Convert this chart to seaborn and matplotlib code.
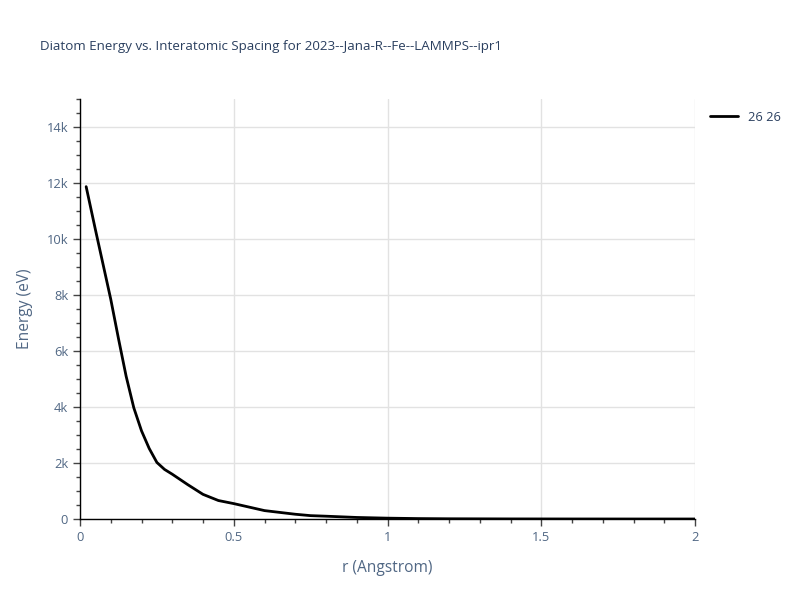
import numpy as np
import pandas as pd
import matplotlib
matplotlib.use("Agg")
import matplotlib.pyplot as plt
from matplotlib.ticker import FuncFormatter, MultipleLocator
import seaborn as sns

# values
r_values = [0.02, 0.05, 0.10, 0.125, 0.15, 0.175, 0.20, 0.225, 0.25, 0.275, 0.30,
            0.35, 0.40, 0.45, 0.50, 0.60, 0.70, 0.75, 0.80, 0.90, 1.00, 1.10,
            1.20, 1.40, 1.60, 1.80, 2.00]
energy_values = [11870, 10340, 7850, 6450, 5100, 3970, 3150, 2520, 2020, 1770, 1600,
                 1230, 880, 660, 550, 300, 170, 120, 100, 55, 30, 15,
                 8, 3, 1, 0, 0]
series_label = "26 26"
title_text = "Diatom Energy vs. Interatomic Spacing for 2023--Jana-R--Fe--LAMMPS--ipr1"

df = pd.DataFrame({"r": r_values, "E": energy_values, "pair": series_label})

sns.set_style("white")
plt.rcParams['font.family'] = ['Open Sans', 'DejaVu Sans']
text_col = "#2a3f5f"
tick_col = "#506784"

fig = plt.figure(figsize=(8, 6), dpi=100)
ax = fig.add_axes([0.1, 0.135, 0.76875, 0.7])

sns.lineplot(data=df, x="r", y="E", hue="pair", palette=["black"],
             linewidth=2, ax=ax, legend=True)

ax.set_xlim(0, 2)
ax.set_ylim(0, 15000)
ax.xaxis.set_major_locator(MultipleLocator(0.5))
ax.xaxis.set_minor_locator(MultipleLocator(0.1))
ax.yaxis.set_major_locator(MultipleLocator(2000))
ax.yaxis.set_minor_locator(MultipleLocator(500))

def k_fmt(v, pos):
    if v == 0:
        return "0"
    return f"{v/1000:g}k"

def x_fmt(v, pos):
    return f"{v:g}"

ax.yaxis.set_major_formatter(FuncFormatter(k_fmt))
ax.xaxis.set_major_formatter(FuncFormatter(x_fmt))

ax.grid(True, which="major", color="#e2e2e2", linewidth=1)
ax.set_axisbelow(True)
for side in ["top", "right"]:
    ax.spines[side].set_visible(False)
for side in ["left", "bottom"]:
    ax.spines[side].set_color("black")
    ax.spines[side].set_linewidth(1)

ax.tick_params(axis="both", which="major", direction="out", length=5, width=1,
               color="#444444", labelsize=9.3, labelcolor=tick_col, left=True, bottom=True)
ax.tick_params(axis="both", which="minor", direction="out", length=3, width=1,
               color="#444444", left=True, bottom=True)

ax.set_xlabel("r (Angstrom)", fontsize=11.2, color=tick_col, labelpad=12)
ax.set_ylabel("Energy (eV)", fontsize=11.2, color=tick_col, labelpad=10)

fig.text(0.05, 0.923, title_text, fontsize=9.6, color=text_col, va="center", ha="left")

leg = ax.legend(loc="upper left", bbox_to_anchor=(1.005, 1.0), frameon=False,
                fontsize=9.3, handlelength=2.2, labelcolor=text_col)
leg.set_title(None)

fig.savefig("out.png", dpi=100)
